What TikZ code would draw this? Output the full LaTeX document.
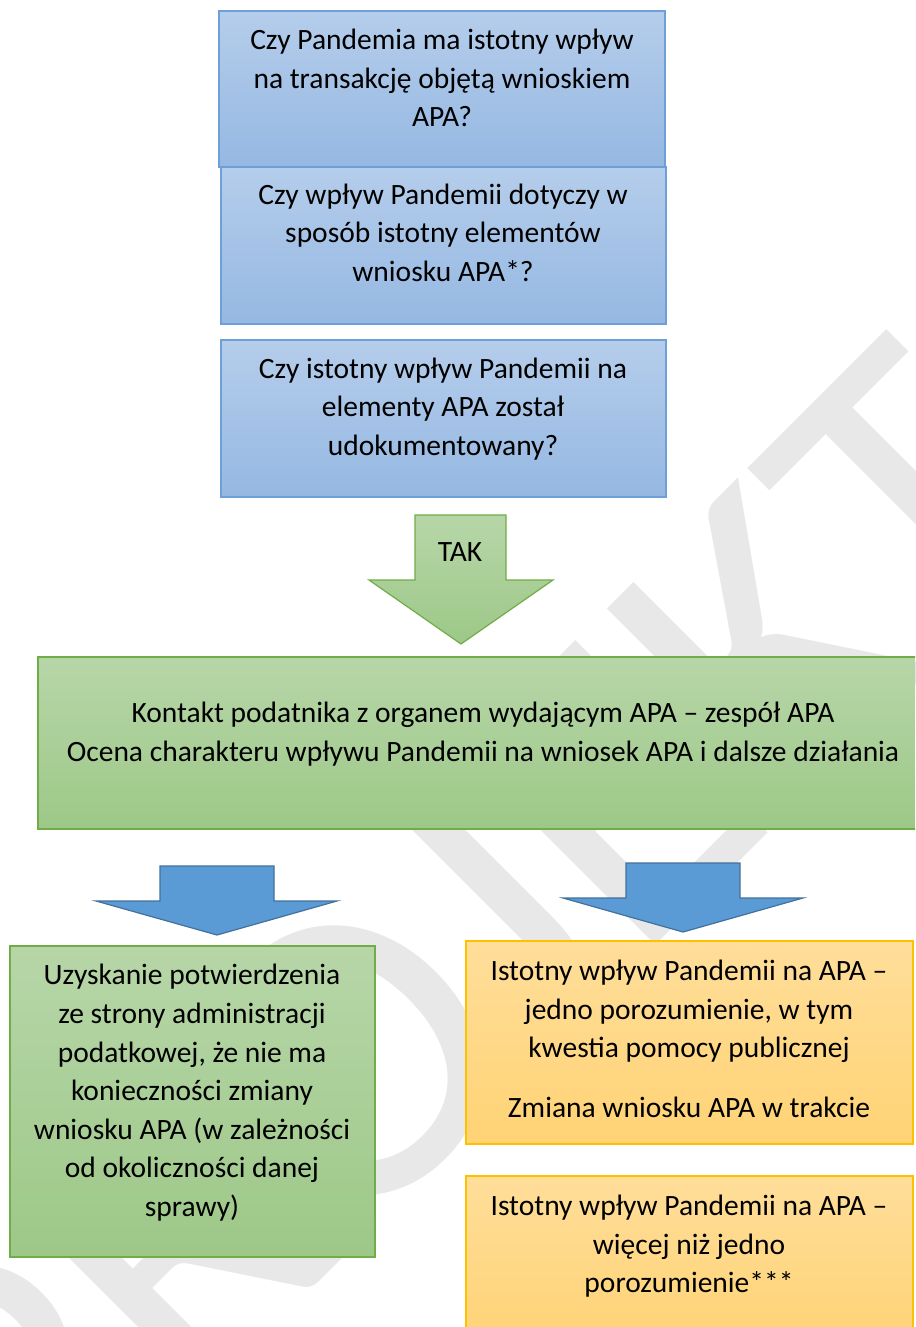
\documentclass[tikz,border=0pt]{standalone}
\usepackage{fontspec}
\setmainfont{Carlito}
\definecolor{bluetop}{RGB}{181,205,235}
\definecolor{bluebot}{RGB}{149,184,226}
\definecolor{blueline}{RGB}{110,160,215}
\definecolor{greentop}{RGB}{183,214,168}
\definecolor{greenbot}{RGB}{157,200,136}
\definecolor{greenline}{RGB}{112,173,71}
\definecolor{orangetop}{RGB}{255,222,154}
\definecolor{orangebot}{RGB}{255,211,117}
\definecolor{orangeline}{RGB}{255,192,0}
\definecolor{arrowfill}{RGB}{91,155,213}
\definecolor{arrowline}{RGB}{65,113,156}
\definecolor{wmgray}{RGB}{232,232,232}
\newcommand{\tline}[4]{\node[txt] (#1) at (#2,#3) {#4};}
\begin{document}
\begin{tikzpicture}[x=1pt,y=-1pt,
  boxbase/.style={rectangle, inner sep=0pt, outer sep=0pt, anchor=north west, line width=1.2pt},
  bluebox/.style={boxbase, draw=blueline, top color=bluetop, bottom color=bluebot},
  greenbox/.style={boxbase, draw=greenline, top color=greentop, bottom color=greenbot},
  orangebox/.style={boxbase, draw=orangeline, top color=orangetop, bottom color=orangebot},
  bluearrow/.style={draw=arrowline, line width=1.2pt, fill=arrowfill, line join=miter},
  greenarrow/.style={draw=greenline, line width=1.2pt, top color=greentop, bottom color=greenbot, line join=miter},
  txt/.style={anchor=base, inner sep=0pt, text=black, font=\fontsize{29.5}{34}\selectfont},
]
\useasboundingbox (0,0) rectangle (915,1327);
\clip (0,0) rectangle (915,1327);
\fill[white] (0,0) rectangle (915,1327);

% watermark
\node[rotate=45, anchor=base, inner sep=0pt, text=wmgray,
      font=\fontsize{424}{424}\selectfont] (wm) at (556,1045) {PROJEKT};

% top question boxes
\node[bluebox, minimum width=446pt, minimum height=156pt] (q1) at (219,11) {};
\node[bluebox, minimum width=445pt, minimum height=157pt] (q2) at (221,167) {};
\node[bluebox, minimum width=445pt, minimum height=157pt] (q3) at (221,340) {};

\tline{q1a}{442}{50}{Czy Pandemia ma istotny wpływ}
\tline{q1b}{442}{88.5}{na transakcję objętą wnioskiem}
\tline{q1c}{442}{127}{APA?}
\tline{q2a}{443}{204}{Czy wpływ Pandemii dotyczy w}
\tline{q2b}{443}{242.5}{sposób istotny elementów}
\tline{q2c}{443}{281}{wniosku APA*?}
\tline{q3a}{443}{378}{Czy istotny wpływ Pandemii na}
\tline{q3b}{443}{416.5}{elementy APA został}
\tline{q3c}{443}{455}{udokumentowany?}

% TAK arrow
\draw[greenarrow] (415,515) -- (506,515) -- (506,580) -- (553,580) -- (461,644)
  -- (369,580) -- (415,580) -- cycle;
\tline{tak}{460}{561}{TAK}

% contact box
\node[greenbox, minimum width=892pt, minimum height=172pt] (kontakt) at (38,657) {};
\tline{k1}{483}{722}{Kontakt podatnika z organem wydającym APA – zespół APA}
\tline{k2}{483}{761}{Ocena charakteru wpływu Pandemii na wniosek APA i dalsze działania}

% blue arrows
\draw[bluearrow] (160,866) -- (274,866) -- (274,901) -- (337,901) -- (217,935)
  -- (96,901) -- (160,901) -- cycle;
\draw[bluearrow] (626,863) -- (740,863) -- (740,898) -- (803,898) -- (683,932)
  -- (563,898) -- (626,898) -- cycle;

% left result box
\node[greenbox, minimum width=365pt, minimum height=311pt] (left) at (10,946) {};
\tline{l1}{192}{984}{Uzyskanie potwierdzenia}
\tline{l2}{192}{1023}{ze strony administracji}
\tline{l3}{192}{1062}{podatkowej, że nie ma}
\tline{l4}{192}{1100}{konieczności zmiany}
\tline{l5}{192}{1139}{wniosku APA (w zależności}
\tline{l6}{192}{1177}{od okoliczności danej}
\tline{l7}{192}{1216}{sprawy)}

% right result boxes
\node[orangebox, minimum width=447pt, minimum height=203pt] (r1) at (466,941) {};
\tline{r1a}{689}{980}{Istotny wpływ Pandemii na APA –}
\tline{r1b}{689}{1019}{jedno porozumienie, w tym}
\tline{r1c}{689}{1057}{kwestia pomocy publicznej}
\tline{r1d}{689}{1117}{Zmiana wniosku APA w trakcie}

\node[orangebox, minimum width=447pt, minimum height=170pt] (r2) at (466,1176) {};
\tline{r2a}{689}{1215}{Istotny wpływ Pandemii na APA –}
\tline{r2b}{689}{1254}{więcej niż jedno}
\tline{r2c}{689}{1292}{porozumienie***}
\end{tikzpicture}
\end{document}
